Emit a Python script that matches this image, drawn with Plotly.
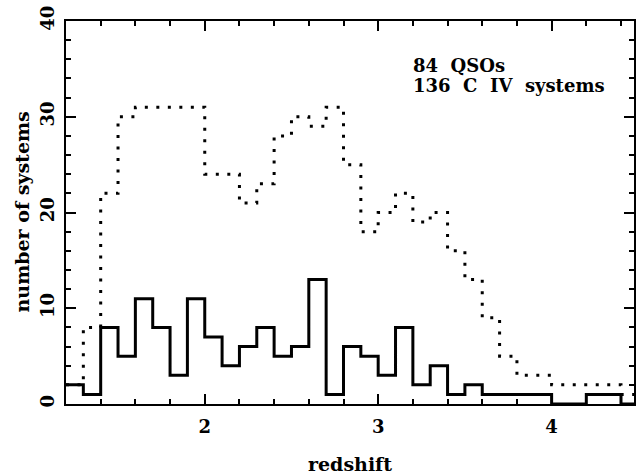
import plotly.graph_objects as go

# Bin layout (redshift bins of width 0.1 starting at z = 1.2)
bin_start = 1.2
bin_width = 0.1

# Number of C IV systems per redshift bin (solid histogram)
n_systems = [2, 1, 8, 5, 11, 8, 3, 11, 7, 4, 6, 8, 5, 6, 13, 1, 6,
             5, 3, 8, 2, 4, 1, 2, 1, 1, 1, 1, 0, 0, 1, 1, 0]

# Number of QSO sightlines covering each bin (dotted histogram)
n_qsos = [2, 8, 22, 30, 31, 31, 31, 31, 24, 24, 21, 23, 28, 30, 29, 31, 25,
          18, 20, 22, 19, 20, 16, 13, 9, 5, 3, 3, 2, 2, 2, 2, 1]

x_ticks = [2, 3, 4]
y_ticks = [0, 10, 20, 30, 40]

edges = [round(bin_start + bin_width * i, 3) for i in range(len(n_systems) + 1)]

FONT = "DejaVu Serif"

fig = go.Figure()
fig.add_trace(go.Scatter(
    x=edges, y=n_qsos + [n_qsos[-1]], mode="lines", line_shape="hv",
    line=dict(color="black", width=3, dash="3px,8.5px"), hoverinfo="skip"))
fig.add_trace(go.Scatter(
    x=edges, y=n_systems + [n_systems[-1]], mode="lines", line_shape="hv",
    line=dict(color="black", width=3), hoverinfo="skip"))

axis_common = dict(
    showgrid=False, zeroline=False, showline=True, linecolor="black",
    linewidth=2, mirror="allticks", ticks="inside", ticklen=10, tickwidth=2,
    tickcolor="black",
    tickfont=dict(family=FONT, size=18, color="black", weight="bold"),
)

fig.update_xaxes(
    range=[1.2, 4.475], tickmode="array", tickvals=x_ticks,
    ticktext=[str(v) for v in x_ticks], ticklabelstandoff=5,
    minor=dict(ticks="inside", dtick=0.2, tick0=0, ticklen=5, tickwidth=2,
               tickcolor="black"),
    **axis_common)
fig.update_yaxes(
    range=[0, 40], tickmode="array", tickvals=y_ticks,
    ticktext=[str(v) for v in y_ticks], tickangle=-90, ticklabelstandoff=3,
    minor=dict(ticks="inside", dtick=2, tick0=0, ticklen=5, tickwidth=2,
               tickcolor="black"),
    **axis_common)

ann_font = dict(family=FONT, size=18, color="black", weight="bold")
title_font = dict(family=FONT, size=19, color="black", weight="bold")

fig.add_annotation(x=3.19, y=35.35, xref="x", yref="y", text="84  QSOs",
                   showarrow=False, xanchor="left", yanchor="middle",
                   font=ann_font)
fig.add_annotation(x=3.19, y=33.3, xref="x", yref="y",
                   text="136  C  IV  systems",
                   showarrow=False, xanchor="left", yanchor="middle",
                   font=ann_font)
fig.add_annotation(x=0.5, y=0, xref="paper", yref="paper", text="redshift",
                   showarrow=False, xanchor="center", yanchor="middle",
                   yshift=-59.5, font=title_font)
fig.add_annotation(x=0, y=0.5, xref="paper", yref="paper",
                   text="number of systems", textangle=-90,
                   showarrow=False, xanchor="center", yanchor="middle",
                   xshift=-45, font=title_font)

fig.update_layout(
    width=640, height=475,
    margin=dict(l=66, r=4, t=21, b=71),
    plot_bgcolor="white", paper_bgcolor="white",
    showlegend=False,
)

fig.write_html("out.html")
